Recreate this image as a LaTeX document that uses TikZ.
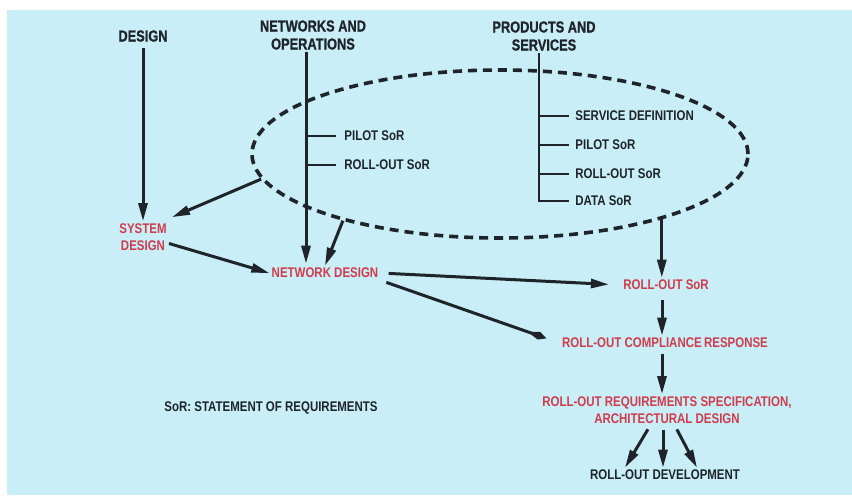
\documentclass[tikz,border=0pt]{standalone}
\usepackage{fontspec}
\newfontfamily\figfont{Liberation Sans Bold}[FakeStretch=0.82]
\newfontfamily\headfont{Liberation Sans Bold}[FakeStretch=0.8, FakeBold=0.8]
\usetikzlibrary{arrows.meta,positioning,shapes.geometric}

\definecolor{panel}{RGB}{201,238,247}
\definecolor{ink}{RGB}{30,36,42}
\definecolor{redtxt}{RGB}{208,60,76}

\begin{document}
\begin{tikzpicture}[x=0.5pt, y=-0.5pt,
  head/.style={font=\headfont\fontsize{8}{9}\selectfont, text=ink, align=center, inner sep=1pt},
  note/.style={font=\figfont\fontsize{7}{8.5}\selectfont, text=ink, inner sep=1pt},
  item/.style={note, anchor=west},
  stage/.style={font=\figfont\fontsize{7}{8.5}\selectfont, text=redtxt, align=center, inner sep=1pt},
  arr/.style={ink, line width=1.5pt, -{Triangle[length=9pt,width=4.5pt]}},
  spear/.style={ink, line width=1.5pt, -{Kite[length=10pt,width=4pt,inset=6pt]}},
  tick/.style={ink, line width=1.4pt},
  group/.style={draw=ink, ellipse, dash pattern=on 4.5pt off 3pt, line width=1.8pt,
                minimum width=248pt, minimum height=84pt, inner sep=0pt}
]
\fill[panel] (7,10) rectangle (852,495);
\useasboundingbox (0,0) rectangle (852,495);

% scope of the pilot / roll-out work
\node[group] (cluster) at (500,154) {};

% the three streams
\node[head] (design) at (143,36) {DESIGN};
\node[head] (netops) at (313,35) {NETWORKS AND\\OPERATIONS};
\node[head] (prodserv) at (544,36) {PRODUCTS AND\\SERVICES};

\node[item] (pilotL) at (342,136) {PILOT SoR};
\node[item, below=14.5pt of pilotL.west, anchor=west] (rolloutL) {ROLL-OUT SoR};

\node[item] (svcdef) at (573,116) {SERVICE DEFINITION};
\node[item, below=14.5pt of svcdef.west, anchor=west] (pilotR) {PILOT SoR};
\node[item, below=14.5pt of pilotR.west, anchor=west] (rolloutR) {ROLL-OUT SoR};
\node[item, below=13.5pt of rolloutR.west, anchor=west] (dataR) {DATA SoR};

% stages
\node[stage] (sysdes) at (143,237) {SYSTEM\\DESIGN};
\node[stage] (netdes) at (325,273) {NETWORK DESIGN};
\node[stage] (rosor) at (666,285) {ROLL-OUT SoR};
\node[stage] (compl) at (665,343) {ROLL-OUT COMPLIANCE\,RESPONSE};
\node[stage] (reqspec) at (667,410) {ROLL-OUT REQUIREMENTS SPECIFICATION,\\ARCHITECTURAL DESIGN};
\node[note] (dev) at (665,475) {ROLL-OUT DEVELOPMENT};
\node[note] (sorkey) at (271,408) {SoR: STATEMENT OF REQUIREMENTS};

% trunks and ticks
\coordinate (ntrunk) at ([xshift=-3.5pt]netops.south);
\coordinate (ptrunk) at ([xshift=-2.5pt]prodserv.south);
\draw[arr] (ntrunk) -- ([yshift=1pt]ntrunk |- netdes.north);
\foreach \n in {pilotL,rolloutL}
  \draw[tick] (ntrunk |- \n.west) -- ([xshift=-3pt]\n.west);
\draw[tick] (ptrunk) -- (ptrunk |- dataR.west) -- ([xshift=-2pt]dataR.west);
\foreach \n in {svcdef,pilotR,rolloutR}
  \draw[tick] (ptrunk |- \n.west) -- ([xshift=-2pt]\n.west);

% flows
\draw[arr, shorten <=2pt] (design) -- (sysdes);
\draw[arr] (cluster.186) -- ([shift={(1.5pt,2pt)}]sysdes.north east);
\draw[arr] (cluster.203) -- (netdes.north);
\draw[arr] (cluster.338) -- (cluster.338 |- rosor.north);
\draw[arr] (sysdes.-14) -- (netdes.west);
\draw[arr, shorten <=4pt, shorten >=6pt] (netdes.east) -- (rosor.west);
\draw[spear, shorten <=3pt, shorten >=7pt] (netdes.south east) -- (compl.west);
\draw[arr, shorten <=4pt] ([xshift=-2pt]rosor.south) -- ([xshift=-2pt]rosor.south |- compl.north);
\draw[arr, shorten <=2pt] ([xshift=-1.5pt]compl.south) -- ([xshift=-1.5pt]compl.south |- reqspec.north);
\foreach \sx/\ex in {-8.5/-20, -2/-1, 4/16}
  \draw[arr, shorten <=2pt] ([xshift=\sx pt]reqspec.south) -- ([xshift=\ex pt]dev.north);
\end{tikzpicture}
\end{document}
